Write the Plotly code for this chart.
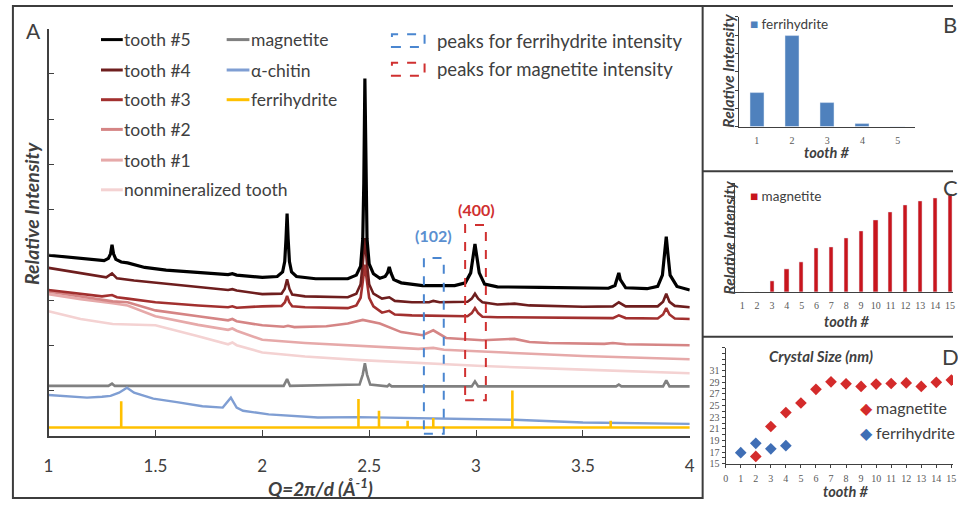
import plotly.graph_objects as go

W, H = 958, 505
def PX(px): return px / W
def PY(py): return 1 - py / H

FONT = "Lato"
SERIF = "Liberation Serif"
TXT = "#404040"

# ---------------- Panel A data: Q (1/Å) and relative intensity (offset units) ----------------
q_t5 = [1.00,1.10,1.20,1.26,1.28,1.29,1.297,1.304,1.315,1.34,1.37,1.45,1.55,1.70,1.84,1.86,1.88,2.00,2.07,2.095,2.105,2.111,2.116,2.121,2.127,2.137,2.16,2.25,2.40,2.44,2.46,2.47,2.475,2.48,2.485,2.49,2.50,2.52,2.55,2.575,2.586,2.594,2.602,2.615,2.65,2.75,2.90,2.95,2.975,2.986,2.995,3.004,3.015,3.04,3.10,3.30,3.50,3.62,3.65,3.662,3.668,3.675,3.70,3.80,3.85,3.872,3.883,3.89,3.897,3.908,3.94,4.00]
i_t5 = [3.99,3.94,3.89,3.87,3.92,4.02,4.22,4.02,3.90,3.84,3.82,3.72,3.66,3.60,3.56,3.58,3.55,3.50,3.52,3.62,3.85,4.35,4.91,4.35,3.85,3.62,3.52,3.47,3.47,3.55,3.75,4.35,5.60,7.90,5.60,4.35,3.80,3.58,3.48,3.52,3.60,3.73,3.60,3.45,3.38,3.32,3.32,3.38,3.60,3.95,4.24,3.95,3.60,3.35,3.29,3.28,3.26,3.26,3.32,3.48,3.60,3.45,3.27,3.25,3.30,3.55,4.05,4.40,4.05,3.55,3.30,3.22]

q_t4 = [1.00,1.10,1.20,1.27,1.297,1.32,1.40,1.50,1.70,1.84,1.86,1.88,2.00,2.09,2.105,2.116,2.127,2.14,2.20,2.40,2.44,2.46,2.47,2.48,2.49,2.50,2.52,2.56,2.594,2.62,2.70,2.78,2.80,2.83,2.96,2.98,2.995,3.01,3.03,3.10,3.18,3.25,3.50,3.64,3.668,3.70,3.85,3.875,3.89,3.905,3.93,4.00]
i_t4 = [3.71,3.63,3.55,3.50,3.59,3.48,3.43,3.38,3.28,3.22,3.24,3.21,3.13,3.14,3.25,3.46,3.25,3.12,3.08,3.06,3.14,3.35,3.80,4.37,3.80,3.35,3.14,3.03,3.06,2.98,2.95,2.95,2.98,2.95,2.96,3.03,3.14,3.03,2.95,2.90,2.92,2.88,2.85,2.86,2.95,2.86,2.86,2.96,3.14,2.96,2.87,2.84]

q_t3 = [1.00,1.10,1.25,1.297,1.32,1.37,1.50,1.70,1.84,1.86,1.88,2.00,2.09,2.106,2.116,2.126,2.14,2.20,2.40,2.44,2.46,2.47,2.48,2.49,2.50,2.52,2.56,2.594,2.62,2.70,2.96,2.98,2.995,3.01,3.03,3.10,3.50,3.64,3.668,3.70,3.85,3.875,3.89,3.905,3.93,4.00]
i_t3 = [3.22,3.16,3.08,3.11,3.06,3.03,2.95,2.88,2.84,2.86,2.83,2.86,2.87,2.95,3.09,2.95,2.86,2.84,2.82,2.88,3.05,3.40,3.78,3.40,3.05,2.86,2.72,2.76,2.68,2.66,2.64,2.71,2.82,2.71,2.63,2.62,2.60,2.60,2.66,2.60,2.59,2.68,2.82,2.68,2.59,2.58]

q_t2 = [1.00,1.15,1.30,1.37,1.50,1.70,1.84,1.86,1.88,2.00,2.10,2.12,2.15,2.30,2.40,2.47,2.55,2.65,2.75,2.80,2.86,3.03,3.18,3.25,3.34,3.60,3.64,3.70,4.00]
i_t2 = [3.19,3.08,2.97,2.95,2.77,2.64,2.55,2.58,2.53,2.44,2.41,2.43,2.40,2.42,2.48,2.56,2.48,2.29,2.22,2.33,2.16,2.11,2.14,2.07,2.05,2.03,2.05,2.02,2.00]

q_t1 = [1.00,1.15,1.30,1.37,1.50,1.70,1.84,1.86,1.88,2.00,2.20,2.47,2.73,2.80,2.85,3.03,3.50,4.00]
i_t1 = [3.13,3.02,2.93,2.88,2.64,2.45,2.34,2.37,2.32,2.12,2.05,1.99,1.92,1.94,1.90,1.86,1.76,1.69]

q_t0 = [1.00,1.15,1.30,1.37,1.50,1.70,1.84,1.86,1.88,2.00,2.20,2.46,2.75,3.03,3.50,4.00]
i_t0 = [2.75,2.58,2.47,2.46,2.44,2.20,2.02,2.06,2.00,1.84,1.75,1.67,1.60,1.54,1.46,1.38]

q_mag = [1.00,1.28,1.297,1.31,2.10,2.116,2.13,2.455,2.47,2.48,2.49,2.505,2.585,2.594,2.605,2.98,2.995,3.01,3.655,3.668,3.68,3.875,3.89,3.905,4.00]
i_mag = [1.10,1.10,1.15,1.10,1.10,1.25,1.10,1.13,1.35,1.60,1.35,1.13,1.09,1.13,1.09,1.09,1.20,1.09,1.09,1.13,1.09,1.09,1.22,1.09,1.09]

q_chi = [1.00,1.10,1.18,1.25,1.29,1.33,1.367,1.40,1.49,1.60,1.72,1.815,1.853,1.88,1.91,2.03,2.26,2.45,2.57,2.88,3.18,3.50,4.00]
i_chi = [0.90,0.86,0.84,0.86,0.88,0.95,1.06,0.95,0.82,0.74,0.65,0.62,0.84,0.62,0.55,0.47,0.40,0.41,0.40,0.39,0.35,0.29,0.26]

fer_base = 0.18
fer_q = [1.34, 2.45, 2.546, 2.68, 2.80, 3.17, 3.63]
fer_i = [0.76, 0.81, 0.55, 0.33, 0.39, 1.00, 0.33]

# ---------------- Panels B, C, D data ----------------
teeth_b = [1, 2, 3, 4, 5]
ferri_int = [1.86, 4.97, 1.33, 0.18, 0.0]

teeth_c = list(range(1, 16))
magn_int = [0, 0, 0.68, 1.45, 1.91, 2.83, 2.89, 3.45, 3.91, 4.64, 5.11, 5.57, 5.85, 6.06, 6.32]

teeth_dm = list(range(2, 16))
size_magn = [16.25, 21.4, 23.8, 25.45, 27.8, 29.1, 28.75, 28.3, 28.7, 28.8, 28.9, 28.3, 29.0, 29.4]
teeth_df = [1, 2, 3, 4]
size_ferri = [16.9, 18.5, 17.55, 18.1]
size_ticks = list(range(15, 32, 2))

# ---------------- styles ----------------
series = [
    ("nonmineralized tooth", q_t0, i_t0, "#F4D2D2", 2.6),
    ("tooth #1", q_t1, i_t1, "#E6A9A9", 2.6),
    ("tooth #2", q_t2, i_t2, "#D58585", 2.6),
    ("tooth #3", q_t3, i_t3, "#A2302F", 2.6),
    ("tooth #4", q_t4, i_t4, "#6E1E1E", 2.6),
    ("magnetite", q_mag, i_mag, "#808080", 2.6),
    ("α-chitin", q_chi, i_chi, "#7F9ED3", 2.4),
]

fig = go.Figure()
for name, q, i, col, w in series:
    fig.add_trace(go.Scatter(x=q, y=i, mode="lines", line=dict(color=col, width=w),
                             name=name, showlegend=False, xaxis="x", yaxis="y"))

# ferrihydrite reference sticks + baseline
fx, fy = [], []
for p, h in zip(fer_q, fer_i):
    fx += [p, p, None]
    fy += [fer_base, h, None]
fig.add_trace(go.Scatter(x=fx, y=fy, mode="lines", line=dict(color="#FFC000", width=2.6),
                         showlegend=False, xaxis="x", yaxis="y"))
fig.add_trace(go.Scatter(x=[1, 4], y=[fer_base, fer_base], mode="lines",
                         line=dict(color="#FFC000", width=2.6), showlegend=False, xaxis="x", yaxis="y"))
fig.add_trace(go.Scatter(x=q_t5, y=i_t5, mode="lines", line=dict(color="#000000", width=3.2),
                         name="tooth #5", showlegend=False, xaxis="x", yaxis="y"))

fig.add_trace(go.Bar(x=teeth_b, y=ferri_int, marker_color="#4F81BD", width=0.4,
                     showlegend=False, xaxis="x2", yaxis="y2"))
fig.add_trace(go.Bar(x=teeth_c, y=magn_int, marker_color="#C8151D", width=0.28,
                     showlegend=False, xaxis="x3", yaxis="y3"))
fig.add_trace(go.Scatter(x=teeth_dm, y=size_magn, mode="markers",
                         marker=dict(symbol="diamond", size=9, color="#D42B2B"),
                         showlegend=False, xaxis="x4", yaxis="y4"))
fig.add_trace(go.Scatter(x=teeth_df, y=size_ferri, mode="markers",
                         marker=dict(symbol="diamond", size=9, color="#3F6EB5"),
                         showlegend=False, xaxis="x4", yaxis="y4"))

AX = "#404040"
small_tick = dict(family=SERIF, size=10, color="#595959")

fig.update_layout(
    width=W, height=H, margin=dict(l=0, r=0, t=0, b=0),
    paper_bgcolor="white", plot_bgcolor="rgba(0,0,0,0)",
    font=dict(family=FONT, color=TXT),
    bargap=0,
    xaxis=dict(domain=[PX(44), PX(692)], range=[1, 4], tickvals=[1, 1.5, 2, 2.5, 3, 3.5, 4],
               ticktext=["1", "1.5", "2", "2.5", "3", "3.5", "4"],
               ticks="inside", ticklen=6, tickcolor=AX, showline=True, linecolor=AX, linewidth=1.5,
               showgrid=False, zeroline=False, tickfont=dict(family=FONT, size=17, color=TXT),
               ticklabelstandoff=14, anchor="y"),
    yaxis=dict(domain=[PY(440), PY(29)], range=[0, 9], dtick=1, tick0=0, showticklabels=False,
               ticks="inside", ticklen=6, tickcolor=AX, showline=True, linecolor=AX, linewidth=1.5,
               showgrid=False, zeroline=False, anchor="x"),
    xaxis2=dict(domain=[PX(742), PX(920)], range=[0.5, 5.5], tickvals=teeth_b, ticks="",
                showline=True, linecolor=AX, linewidth=1.2, showgrid=False, zeroline=False,
                tickfont=small_tick, ticklabelstandoff=4, anchor="y2"),
    yaxis2=dict(domain=[PY(128), PY(17)], range=[0, 6], dtick=1, showticklabels=False,
                ticks="outside", ticklen=3, tickcolor=AX, showline=True, linecolor=AX, linewidth=1.2,
                showgrid=False, zeroline=False, anchor="x2"),
    xaxis3=dict(domain=[PX(738), 1], range=[0.53, 15.2], tickvals=teeth_c, ticks="",
                showline=True, linecolor=AX, linewidth=1.2, showgrid=False, zeroline=False,
                tickfont=small_tick, ticklabelstandoff=4, anchor="y3"),
    yaxis3=dict(domain=[PY(295), PY(185)], range=[0, 7], dtick=1, showticklabels=False,
                ticks="outside", ticklen=3, tickcolor=AX, showline=True, linecolor=AX, linewidth=1.2,
                showgrid=False, zeroline=False, anchor="x3"),
    xaxis4=dict(domain=[PX(728.3), 1], range=[0, 15.11], tickvals=list(range(0, 16)),
                ticks="outside", ticklen=3, tickcolor=AX,
                showline=True, linecolor=AX, linewidth=1.2, showgrid=False, zeroline=False,
                tickfont=small_tick, ticklabelstandoff=2, anchor="y4"),
    yaxis4=dict(domain=[PY(468.3), PY(351)], range=[15, 35], tickvals=size_ticks,
                ticks="outside", ticklen=3, tickcolor=AX, showline=True, linecolor=AX, linewidth=1.2,
                minor=dict(dtick=1, tick0=15, ticks="outside", ticklen=3, tickcolor=AX, showgrid=False),
                showgrid=False, zeroline=False, tickfont=small_tick, anchor="x4"),
)

shapes = []
# panel frames
FR = dict(color="#3c3c3c", width=2)
shapes.append(dict(type="rect", xref="paper", yref="paper", x0=PX(8), x1=PX(705), y0=PY(503), y1=PY(6), line=FR))
shapes.append(dict(type="line", xref="paper", yref="paper", x0=PX(705), x1=1, y0=PY(6), y1=PY(6), line=FR))
shapes.append(dict(type="line", xref="paper", yref="paper", x0=PX(705), x1=1, y0=PY(173), y1=PY(173), line=FR))
shapes.append(dict(type="line", xref="paper", yref="paper", x0=PX(705), x1=1, y0=PY(340), y1=PY(340), line=FR))

# highlighted peak regions (dashed boxes)
shapes.append(dict(type="rect", xref="x", yref="y", x0=2.756, x1=2.849, y0=0.04, y1=3.93,
                   line=dict(color="#4A86D0", width=2, dash="dash")))
shapes.append(dict(type="rect", xref="x", yref="y", x0=2.949, x1=3.046, y0=0.78, y1=4.66,
                   line=dict(color="#D03030", width=2, dash="dash")))

annotations = []
def ann(text, px, py, size, color=TXT, xanchor="left", angle=0, family=FONT):
    annotations.append(dict(text=text, x=PX(px), y=PY(py), xref="paper", yref="paper",
                            showarrow=False, xanchor=xanchor, yanchor="middle", textangle=angle,
                            font=dict(family=family, size=size, color=color)))

# panel A legend
legA_left = [("tooth #5", "#000000"), ("tooth #4", "#6E1E1E"), ("tooth #3", "#A2302F"),
             ("tooth #2", "#D58585"), ("tooth #1", "#E6A9A9"), ("nonmineralized tooth", "#F4D2D2")]
rows = [40, 70.7, 100.7, 130.7, 161.7, 191.7]
for (name, col), r in zip(legA_left, rows):
    shapes.append(dict(type="line", xref="paper", yref="paper", x0=PX(97), x1=PX(119), y0=PY(r), y1=PY(r),
                       line=dict(color=col, width=3)))
    ann(name, 118, r, 17.5)
legA_right = [("magnetite", "#808080"), ("α-chitin", "#7F9ED3"), ("ferrihydrite", "#FFC000")]
for (name, col), r in zip(legA_right, rows[:3]):
    shapes.append(dict(type="line", xref="paper", yref="paper", x0=PX(224), x1=PX(247), y0=PY(r), y1=PY(r),
                       line=dict(color=col, width=3)))
    ann(name, 246.5, r, 17.5)
for (name, col), r in zip([("peaks for ferrihydrite intensity", "#4A86D0"),
                           ("peaks for magnetite intensity", "#D03030")], [41, 70]):
    shapes.append(dict(type="rect", xref="paper", yref="paper", x0=PX(391), x1=PX(424),
                       y0=PY(r + 6.5), y1=PY(r - 6.5), line=dict(color=col, width=2, dash="dash")))
    ann(name, 435, r, 18.5)

ann("<b>(102)</b>", 432.7, 238.3, 16, color="#5B8FD0", xanchor="center")
ann("<b>(400)</b>", 476.7, 211.7, 16, color="#D03030", xanchor="center")
ann("A", 19, 31, 21)
ann("<b><i>Relative Intensity</i></b>", 27.5, 215, 19.5, angle=-90, xanchor="center")
ann("<b><i>Q=2π/d (Å<sup>-1</sup>)</i></b>", 319, 492, 19, xanchor="center")

# panel B
ann("<span style='color:#4F81BD'>■</span> ferrihydrite", 751, 24.7, 13.5)
ann("B", 946, 24.5, 22)
ann("<b><i>tooth #</i></b>", 831, 154, 14.5, xanchor="center")
ann("<b><i>Relative Intensity</i></b>", 731, 71, 15.5, angle=-90, xanchor="center")

# panel C
ann("<span style='color:#C8151D'>■</span> magnetite", 751, 198, 13.5)
ann("C", 946, 189.5, 22)
ann("<b><i>tooth #</i></b>", 850.5, 325, 14.5, xanchor="center")
ann("<b><i>Relative Intensity</i></b>", 731.5, 240, 15.5, angle=-90, xanchor="center")

# panel D
ann("<b><i>Crystal Size (nm)</i></b>", 825, 360, 15, xanchor="center")
ann("D", 945, 360, 22)
ann("<span style='color:#D42B2B'>◆</span> magnetite", 862, 412, 16)
ann("<span style='color:#3F6EB5'>◆</span> ferrihydrite", 862, 437, 16)
ann("<b><i>tooth #</i></b>", 850, 496, 14.5, xanchor="center")

fig.update_layout(shapes=shapes, annotations=annotations)
fig.write_html("out.html", config={"displayModeBar": False},
               post_script="document.body.style.margin='0';document.body.style.overflow='hidden';")
